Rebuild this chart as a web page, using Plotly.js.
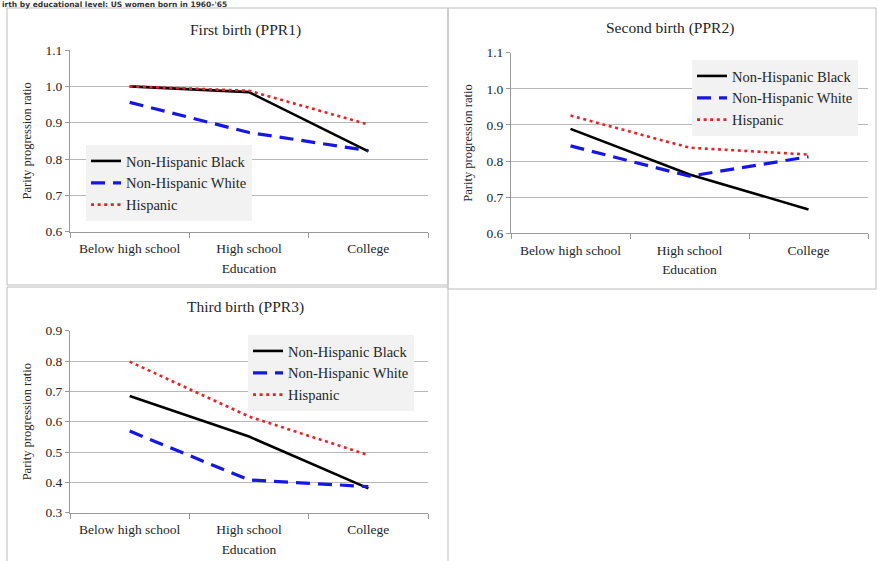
<!DOCTYPE html>
<html>
<head>
<meta charset="utf-8">
<script src="https://cdn.plot.ly/plotly-3.0.1.min.js"></script>
<style>
html,body{margin:0;padding:0;background:#fff;}
#chart{width:878px;height:561px;}
</style>
</head>
<body>
<div id="chart"></div>
<script>
// Categories and series values
var education = ["Below high school", "High school", "College"];
var seriesNames = ["Non-Hispanic Black", "Non-Hispanic White", "Hispanic"];

var ppr1Black = [1.000, 0.984, 0.821];
var ppr1White = [0.956, 0.873, 0.823];
var ppr1Hisp  = [1.000, 0.988, 0.895];

var ppr2Black = [0.889, 0.763, 0.666];
var ppr2White = [0.842, 0.758, 0.812];
var ppr2Hisp  = [0.926, 0.837, 0.818];

var ppr3Black = [0.685, 0.551, 0.380];
var ppr3White = [0.569, 0.408, 0.386];
var ppr3Hisp  = [0.798, 0.617, 0.490];

var panelTitles = ["First birth (PPR1)", "Second birth (PPR2)", "Third birth (PPR3)"];
var headerText = "irth by educational level: US women born in 1960-'65";

var W = 878, H = 561;
function px(x) { return x / W; }
function py(y) { return 1 - y / H; }

var serif = "Liberation Serif";
var txt = "#262626";
var gridC = "#b8b8b8";
var axisC = "#9a9a9a";

var styles = [
  {color: "#000000", width: 2.6, dash: "solid"},
  {color: "#1717e0", width: 3.2, dash: "14px,8px"},
  {color: "#e3242b", width: 2.6, dash: "3px,3.6px"}
];

var panels = [
  {vals: [ppr1Black, ppr1White, ppr1Hisp], xa: "x", ya: "y", leg: "legend"},
  {vals: [ppr2Black, ppr2White, ppr2Hisp], xa: "x2", ya: "y2", leg: "legend2"},
  {vals: [ppr3Black, ppr3White, ppr3Hisp], xa: "x3", ya: "y3", leg: "legend3"}
];

var traces = [];
panels.forEach(function (p) {
  p.vals.forEach(function (v, i) {
    traces.push({
      type: "scatter", mode: "lines",
      x: education, y: v,
      name: '<span style="font-family:Liberation Serif">' + seriesNames[i] + '</span>',
      xaxis: p.xa, yaxis: p.ya,
      legend: p.leg,
      line: {color: styles[i].color, width: styles[i].width, dash: styles[i].dash},
      hoverinfo: "skip"
    });
  });
});

function xaxis(domain, anchor) {
  return {
    domain: domain, anchor: anchor, type: "category",
    range: [-0.5, 2.5], tickson: "boundaries",
    ticks: "outside", ticklen: 5, tickcolor: axisC, tickwidth: 1,
    ticklabelstandoff: 4,
    showline: true, linecolor: axisC, linewidth: 1,
    showgrid: false, zeroline: false,
    tickfont: {family: serif, size: 13.5, color: txt},
    title: {text: "Education", font: {family: serif, size: 13.5, color: txt}, standoff: 8},
    fixedrange: true
  };
}
function yaxis(domain, anchor, range) {
  return {
    domain: domain, anchor: anchor, range: range,
    tick0: range[0], dtick: 0.1, tickformat: ".1f",
    ticks: "outside", ticklen: 4, tickcolor: axisC, tickwidth: 1,
    showline: true, linecolor: axisC, linewidth: 1,
    showgrid: true, gridcolor: gridC, gridwidth: 1, zeroline: false,
    tickfont: {family: serif, size: 13.5, color: txt},
    title: {text: "Parity progression ratio", font: {family: serif, size: 12.5, color: txt}, standoff: 11},
    fixedrange: true
  };
}
function legend(x, y) {
  return {
    x: x, y: y, xref: "paper", yref: "paper", xanchor: "left", yanchor: "top",
    bgcolor: "#f2f2f2", borderwidth: 0,
    font: {family: serif, size: 14.5, color: txt},
    itemwidth: 30, tracegroupgap: 0
  };
}

function rect(x0, y0, x1, y1) {
  return {type: "rect", xref: "paper", yref: "paper",
    x0: px(x0), x1: px(x1), y0: py(y1), y1: py(y0),
    line: {color: "#bdbdbd", width: 1}, fillcolor: "rgba(0,0,0,0)", layer: "below"};
}
function ann(text, x, y) {
  return {text: text, xref: "paper", yref: "paper", x: px(x), y: py(y),
    xanchor: "center", yanchor: "middle", showarrow: false,
    font: {family: serif, size: 15.5, color: txt}};
}

var layout = {
  width: W, height: H,
  margin: {l: 0, r: 0, t: 0, b: 0},
  font: {family: serif, color: txt},
  paper_bgcolor: "#ffffff", plot_bgcolor: "rgba(0,0,0,0)",
  showlegend: true,
  xaxis: xaxis([px(70), px(428)], "y"),
  yaxis: yaxis([py(231.7), py(50)], "x", [0.6, 1.1]),
  xaxis2: xaxis([px(511), px(868)], "y2"),
  yaxis2: yaxis([py(233.3), py(52.7)], "x2", [0.6, 1.1]),
  xaxis3: xaxis([px(70), px(428)], "y3"),
  yaxis3: yaxis([py(512.7), py(330.7)], "x3", [0.3, 0.9]),
  legend: legend(px(86), py(145)),
  legend2: legend(px(692), py(60)),
  legend3: legend(px(248), py(335)),
  shapes: [
    rect(7, 8, 448, 285),
    rect(448, 8, 876, 289),
    rect(7, 287, 448, 570)
  ],
  annotations: [
    ann(panelTitles[0], 245, 30),
    ann(panelTitles[1], 670, 28),
    ann(panelTitles[2], 245, 307),
    {text: "<b>" + headerText + "</b>", xref: "paper", yref: "paper", x: 0, y: 1,
     xanchor: "left", yanchor: "top", yshift: 2, showarrow: false,
     font: {family: "DejaVu Sans", size: 7.5, color: "#333"}}
  ]
};

Plotly.newPlot("chart", traces, layout, {displayModeBar: false, staticPlot: true}).then(function () {
  document.querySelectorAll("#chart .legendtext").forEach(function (t) {
    t.style.setProperty("font-family", "Liberation Serif", "important");
  });
});
</script>
</body>
</html>
